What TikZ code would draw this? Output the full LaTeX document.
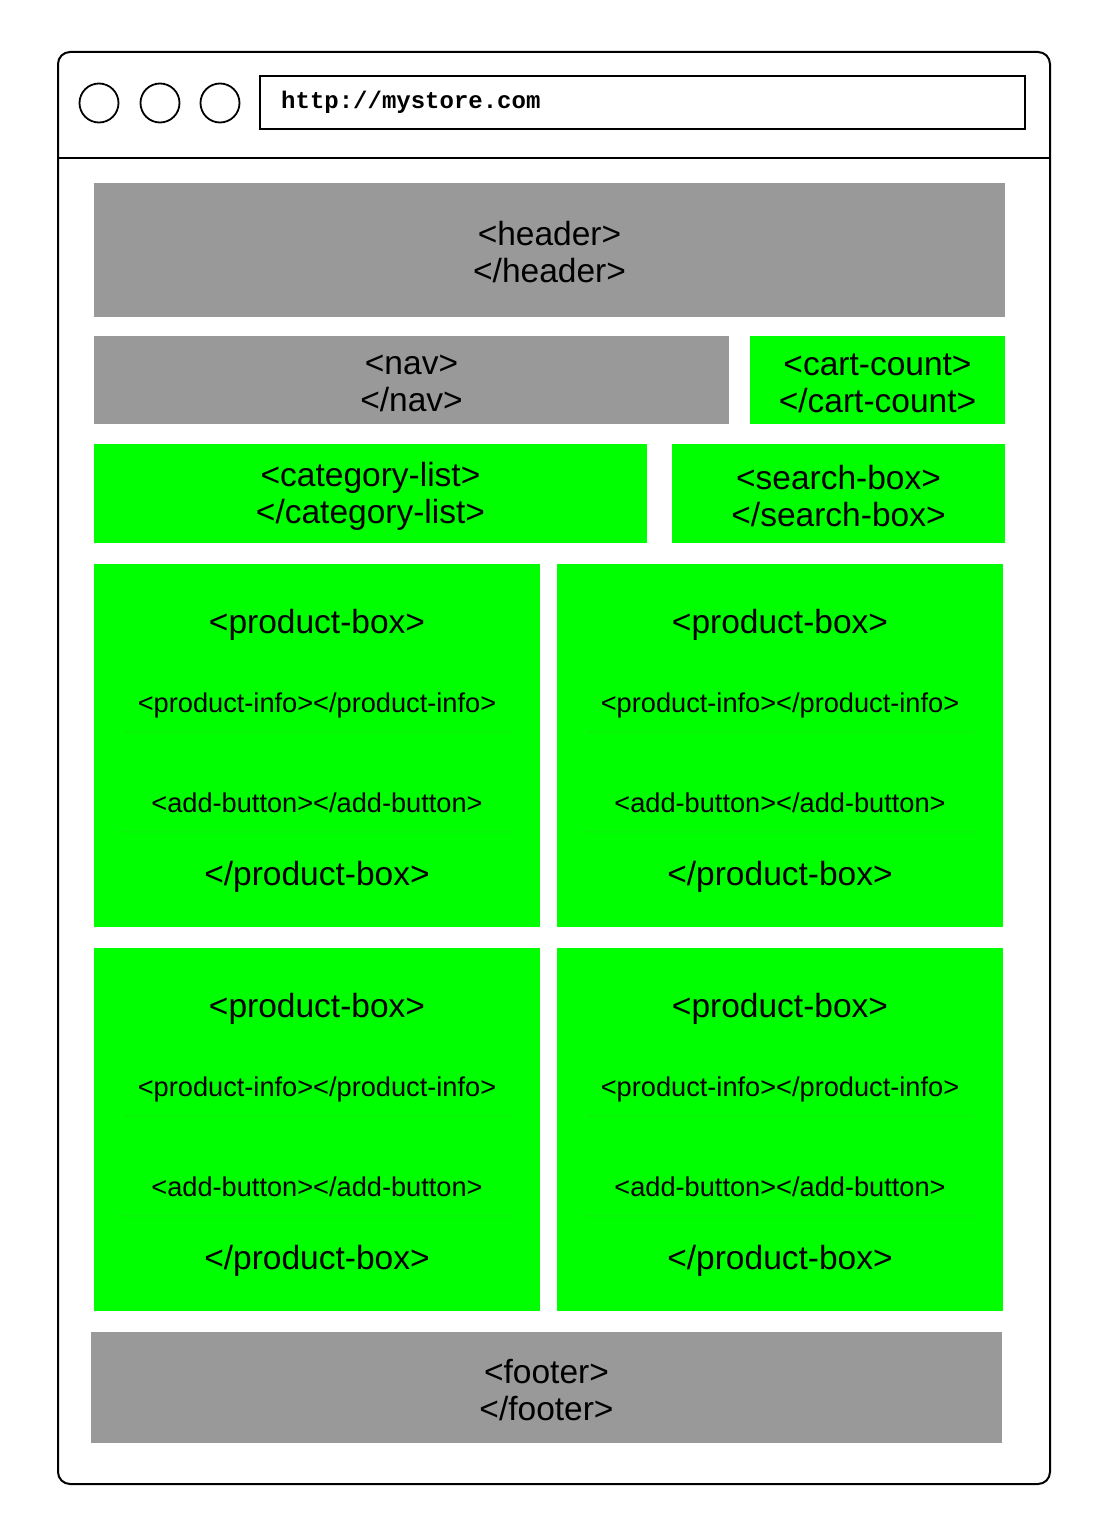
\documentclass[tikz,border=0pt]{standalone}
\usepackage{fontspec}
\setmainfont{Liberation Sans}
\setmonofont{Liberation Mono}
\usetikzlibrary{shadows}
\definecolor{boxgray}{HTML}{999999}
\definecolor{boxgreen}{HTML}{00FF00}
\tikzset{
  big/.style={font=\fontsize{33.5}{37}\selectfont, align=center, inner sep=0pt},
  small/.style={font=\fontsize{27.2}{30}\selectfont, inner sep=0pt},
  graybox/.style={fill=boxgray, draw=none, inner sep=0pt},
  greenbox/.style={fill=boxgreen, draw=none, inner sep=0pt},
  innerbox/.style={fill=boxgreen, draw=none, inner sep=0pt,
     drop shadow={opacity=0.05, shadow xshift=0pt, shadow yshift=-3pt}},
  dot/.style={circle, draw=black, line width=1.8pt, minimum size=39pt, inner sep=0pt},
}
\newcommand{\pbox}[3]{% name, left x, top y
  \path[greenbox] (#2,#3) rectangle ++(446,363);
  \node[innerbox, minimum width=387pt, minimum height=56pt] (#1i) at (#2+223,#3+139) {};
  \node[small] at ([yshift=-2pt]#1i.center) {<product-info></product-info>};
  \node[innerbox, minimum width=395pt, minimum height=57pt] (#1a) at (#2+223,#3+237) {};
  \node[small] at ([yshift=-2pt]#1a.center) {<add-button></add-button>};
  \node[big] (#1t) at (#2+223,#3+61) {<product-box>};
  \node[big] (#1c) at (#2+223,#3+313) {</product-box>};
}
\begin{document}
\begin{tikzpicture}[x=1pt,y=-1pt]
\useasboundingbox (0,0) rectangle (1108,1536);
% browser frame
\draw[line width=2pt, rounded corners=12pt] (58,52) rectangle (1050,1484);
\draw[line width=1.5pt] (58,158) -- (1050,158);
\node[dot] (c1) at (99,103) {};
\node[dot] (c2) at (160,103) {};
\node[dot] (c3) at (220,103) {};
\draw[line width=2pt] (260,76) rectangle (1025,129);
\node[font=\ttfamily\bfseries\fontsize{24}{28}\selectfont, anchor=west, inner sep=0pt] (url) at (281,102) {http://mystore.com};
% header
\path[graybox] (94,183) rectangle (1005,317);
\node[big] (header) at (549.5,252) {<header>\\</header>};
% nav and cart
\path[graybox] (94,336) rectangle (729,424);
\node[big] (nav) at (411.5,383) {<nav>\\</nav>};
\path[greenbox] (750,336) rectangle (1005,424);
\node[big] (cart) at (877.5,383) {<cart-count>\\</cart-count>};
% category and search
\path[greenbox] (94,444) rectangle (647,543);
\node[big] (cat) at (370.5,496) {<category-list>\\</category-list>};
\path[greenbox] (672,444) rectangle (1005,543);
\node[big] (search) at (838.5,496) {<search-box>\\</search-box>};
% product boxes
\pbox{pa}{94}{564}
\pbox{pb}{557}{564}
\pbox{pc}{94}{948}
\pbox{pd}{557}{948}
% footer
\path[graybox] (91,1332) rectangle (1002,1443);
\node[big] (footer) at (546.5,1390) {<footer>\\</footer>};
\end{tikzpicture}
\end{document}
